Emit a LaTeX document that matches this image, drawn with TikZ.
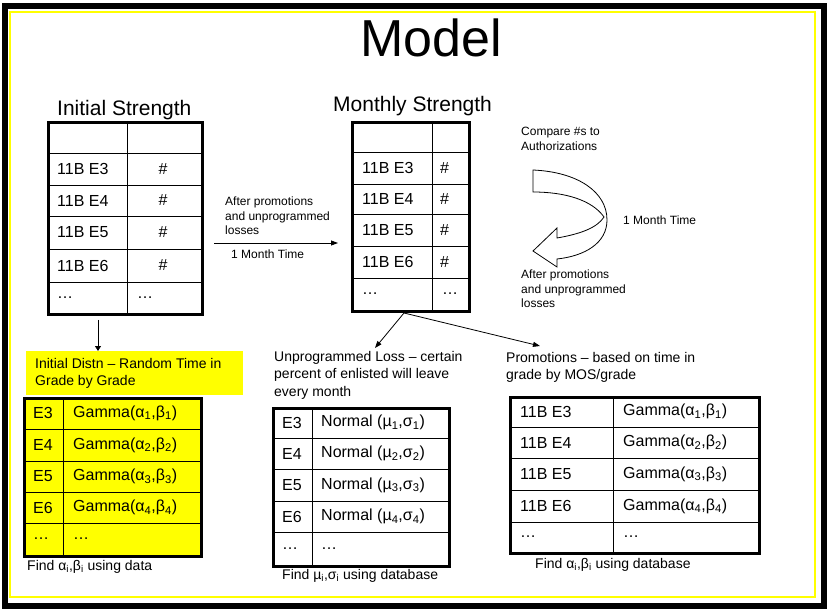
\documentclass[tikz,border=0pt]{standalone}
\usepackage{fontspec}
\setmainfont{Liberation Sans}
\usetikzlibrary{arrows.meta}
\definecolor{hiyel}{RGB}{255,255,0}
\begin{document}
\begin{tikzpicture}[x=1pt,y=-1pt,
  tbl/.style={draw=black,line width=2.6pt,inner sep=0pt,anchor=north west},
  thin/.style={line width=0.9pt},
  cell/.style={anchor=west,inner sep=0pt,font=\fontsize{16}{19}\selectfont},
  lbl/.style={anchor=north west,inner sep=0pt,align=left},
  small/.style={lbl,font=\fontsize{12}{14.5}\selectfont},
  mid/.style={lbl,font=\fontsize{14}{17.5}\selectfont},
  arr/.style={line width=0.8pt,-{Triangle[length=7pt,width=5pt]}}]
\useasboundingbox (0,0) rectangle (830,612);
\fill[white] (0,0) rectangle (830,612);
% frames
\draw[line width=6pt] (5,6) rectangle (824,606);
\draw[hiyel,line width=1.8pt] (10,12) rectangle (815,597);
% title
\node[inner sep=0pt,font=\fontsize{52}{60}\selectfont] (title) at (431,38) {Model};
\node[inner sep=0pt,anchor=base west,font=\fontsize{21}{24}\selectfont] (tInit) at (57,116) {Initial Strength};
\node[inner sep=0pt,anchor=base west,font=\fontsize{21}{24}\selectfont] (tMon) at (333,112) {Monthly Strength};
% ---------- Initial Strength table
\node[tbl,minimum width=154pt,minimum height=192pt] (init) at (47,121) {};
\draw[thin] (127,121) -- (127,313);
\foreach \y in {153,185,216,249,282} \draw[thin] (47,\y) -- (201,\y);
\node[cell] (i1) at (57,169) {11B E3};
\node[cell] (i2) at (57,200.5) {11B E4};
\node[cell] (i3) at (57,232.5) {11B E5};
\node[cell] (i4) at (57,265.5) {11B E6};
\node[cell] (i5) at (57,297.5) {…};
\node[cell,anchor=center] (j1) at (163,169) {\#};
\node[cell,anchor=center] (j2) at (163,200.5) {\#};
\node[cell,anchor=center] (j3) at (163,232.5) {\#};
\node[cell,anchor=center] (j4) at (163,265.5) {\#};
\node[cell] (j5) at (137,297.5) {…};
% ---------- Monthly Strength table
\node[tbl,minimum width=117pt,minimum height=189pt] (mon) at (351,121) {};
\draw[thin] (432,121) -- (432,310);
\foreach \y in {152,184,214,246,278} \draw[thin] (351,\y) -- (468,\y);
\node[cell] (m1) at (362,168) {11B E3};
\node[cell] (m2) at (362,199) {11B E4};
\node[cell] (m3) at (362,230) {11B E5};
\node[cell] (m4) at (362,262) {11B E6};
\node[cell] (m5) at (362,294) {…};
\node[cell] (n1) at (440,168) {\#};
\node[cell] (n2) at (440,199) {\#};
\node[cell] (n3) at (440,230) {\#};
\node[cell] (n4) at (440,262) {\#};
\node[cell] (n5) at (442,294) {…};
% arrow between
\node[small] (after1) at (225,197) {After promotions\\and unprogrammed\\losses};
\coordinate (ra) at (214,243);
\coordinate (rb) at (338,243);
\draw[arr] (ra) -- (rb);
\node[small,anchor=west] (month1) at (231,254) {1 Month Time};
% curved arrow
\node[small] (compare) at (521,127) {Compare \#s to\\Authorizations};
\draw[line width=0.8pt,fill=white,line join=miter]
  (533,170) .. controls (578,172) and (607,192) .. (607,220)
  .. controls (607,243) and (585,256) .. (557,259)
  -- (557,267) -- (533,251) -- (557,228) -- (557,238)
  .. controls (580,234) and (597,228) .. (604,217)
  .. controls (592,200) and (565,192) .. (533,192) -- cycle;
\node[small,anchor=west] (month2) at (623,220) {1 Month Time};
\node[small] (after2) at (521,270) {After promotions\\and unprogrammed\\losses};
% ---------- Initial distn
\coordinate (vd) at (98,320);
\node[fill=hiyel,inner sep=0pt,minimum width=217pt,minimum height=44pt,anchor=north west] (distnbox) at (26,351) {};
\draw[line width=0.8pt,-{Triangle[length=5pt,width=6pt]}] (vd) -- (vd |- distnbox.north);
\node[mid] (distn) at (35,358) {Initial Distn – Random Time in\\Grade by Grade};
\node[tbl,fill=hiyel,minimum width=177pt,minimum height=158pt] (ytab) at (23,397) {};
\draw[thin] (63,397) -- (63,555);
\foreach \y in {429,461,492,523} \draw[thin] (23,\y) -- (200,\y);
\node[cell] (y1) at (33,413) {E3};
\node[cell] (y2) at (33,445) {E4};
\node[cell] (y3) at (33,476.5) {E5};
\node[cell] (y4) at (33,507.5) {E6};
\node[cell] (y5) at (33,539) {…};
\node[cell] (z1) at (73,413) {Gamma(α\textsubscript{1},β\textsubscript{1})};
\node[cell] (z2) at (73,445) {Gamma(α\textsubscript{2},β\textsubscript{2})};
\node[cell] (z3) at (73,476.5) {Gamma(α\textsubscript{3},β\textsubscript{3})};
\node[cell] (z4) at (73,507.5) {Gamma(α\textsubscript{4},β\textsubscript{4})};
\node[cell] (z5) at (73,539) {…};
\node[mid,anchor=west] (find1) at (27,567) {Find α\textsubscript{i},β\textsubscript{i} using data};
% ---------- fork
\coordinate (fork) at (404,313);
\coordinate (ul) at (375,348);
\coordinate (pr) at (540,346);
\draw[arr] (fork) -- (ul);
\draw[arr] (fork) -- (pr);
% ---------- Unprogrammed loss
\node[mid] (unp) at (274,351) {Unprogrammed Loss – certain\\percent of enlisted will leave\\every month};
\node[tbl,minimum width=176pt,minimum height=158pt] (ntab) at (272,407) {};
\draw[thin] (312,407) -- (312,565);
\foreach \y in {438,469,501,532} \draw[thin] (272,\y) -- (448,\y);
\node[cell] (u1) at (282,422.5) {E3};
\node[cell] (u2) at (282,453.5) {E4};
\node[cell] (u3) at (282,485) {E5};
\node[cell] (u4) at (282,516.5) {E6};
\node[cell] (u5) at (282,548.5) {…};
\node[cell] (v1) at (321,422.5) {Normal (µ\textsubscript{1},σ\textsubscript{1})};
\node[cell] (v2) at (321,453.5) {Normal (µ\textsubscript{2},σ\textsubscript{2})};
\node[cell] (v3) at (321,485) {Normal (µ\textsubscript{3},σ\textsubscript{3})};
\node[cell] (v4) at (321,516.5) {Normal (µ\textsubscript{4},σ\textsubscript{4})};
\node[cell] (v5) at (321,548.5) {…};
\node[mid,anchor=west] (find2) at (282,576) {Find µ\textsubscript{i},σ\textsubscript{i} using database};
% ---------- Promotions
\node[mid] (prom) at (506,352) {Promotions – based on time in\\grade by MOS/grade};
\node[tbl,minimum width=249pt,minimum height=156pt] (ptab) at (509,396) {};
\draw[thin] (613,396) -- (613,552);
\foreach \y in {427,458,490,522} \draw[thin] (509,\y) -- (758,\y);
\node[cell] (p1) at (520,411.5) {11B E3};
\node[cell] (p2) at (520,442.5) {11B E4};
\node[cell] (p3) at (520,474) {11B E5};
\node[cell] (p4) at (520,506) {11B E6};
\node[cell] (p5) at (520,537) {…};
\node[cell] (q1) at (623,411.5) {Gamma(α\textsubscript{1},β\textsubscript{1})};
\node[cell] (q2) at (623,442.5) {Gamma(α\textsubscript{2},β\textsubscript{2})};
\node[cell] (q3) at (623,474) {Gamma(α\textsubscript{3},β\textsubscript{3})};
\node[cell] (q4) at (623,506) {Gamma(α\textsubscript{4},β\textsubscript{4})};
\node[cell] (q5) at (623,537) {…};
\node[mid,anchor=west] (find3) at (535,565) {Find α\textsubscript{i},β\textsubscript{i} using database};
\end{tikzpicture}
\end{document}
